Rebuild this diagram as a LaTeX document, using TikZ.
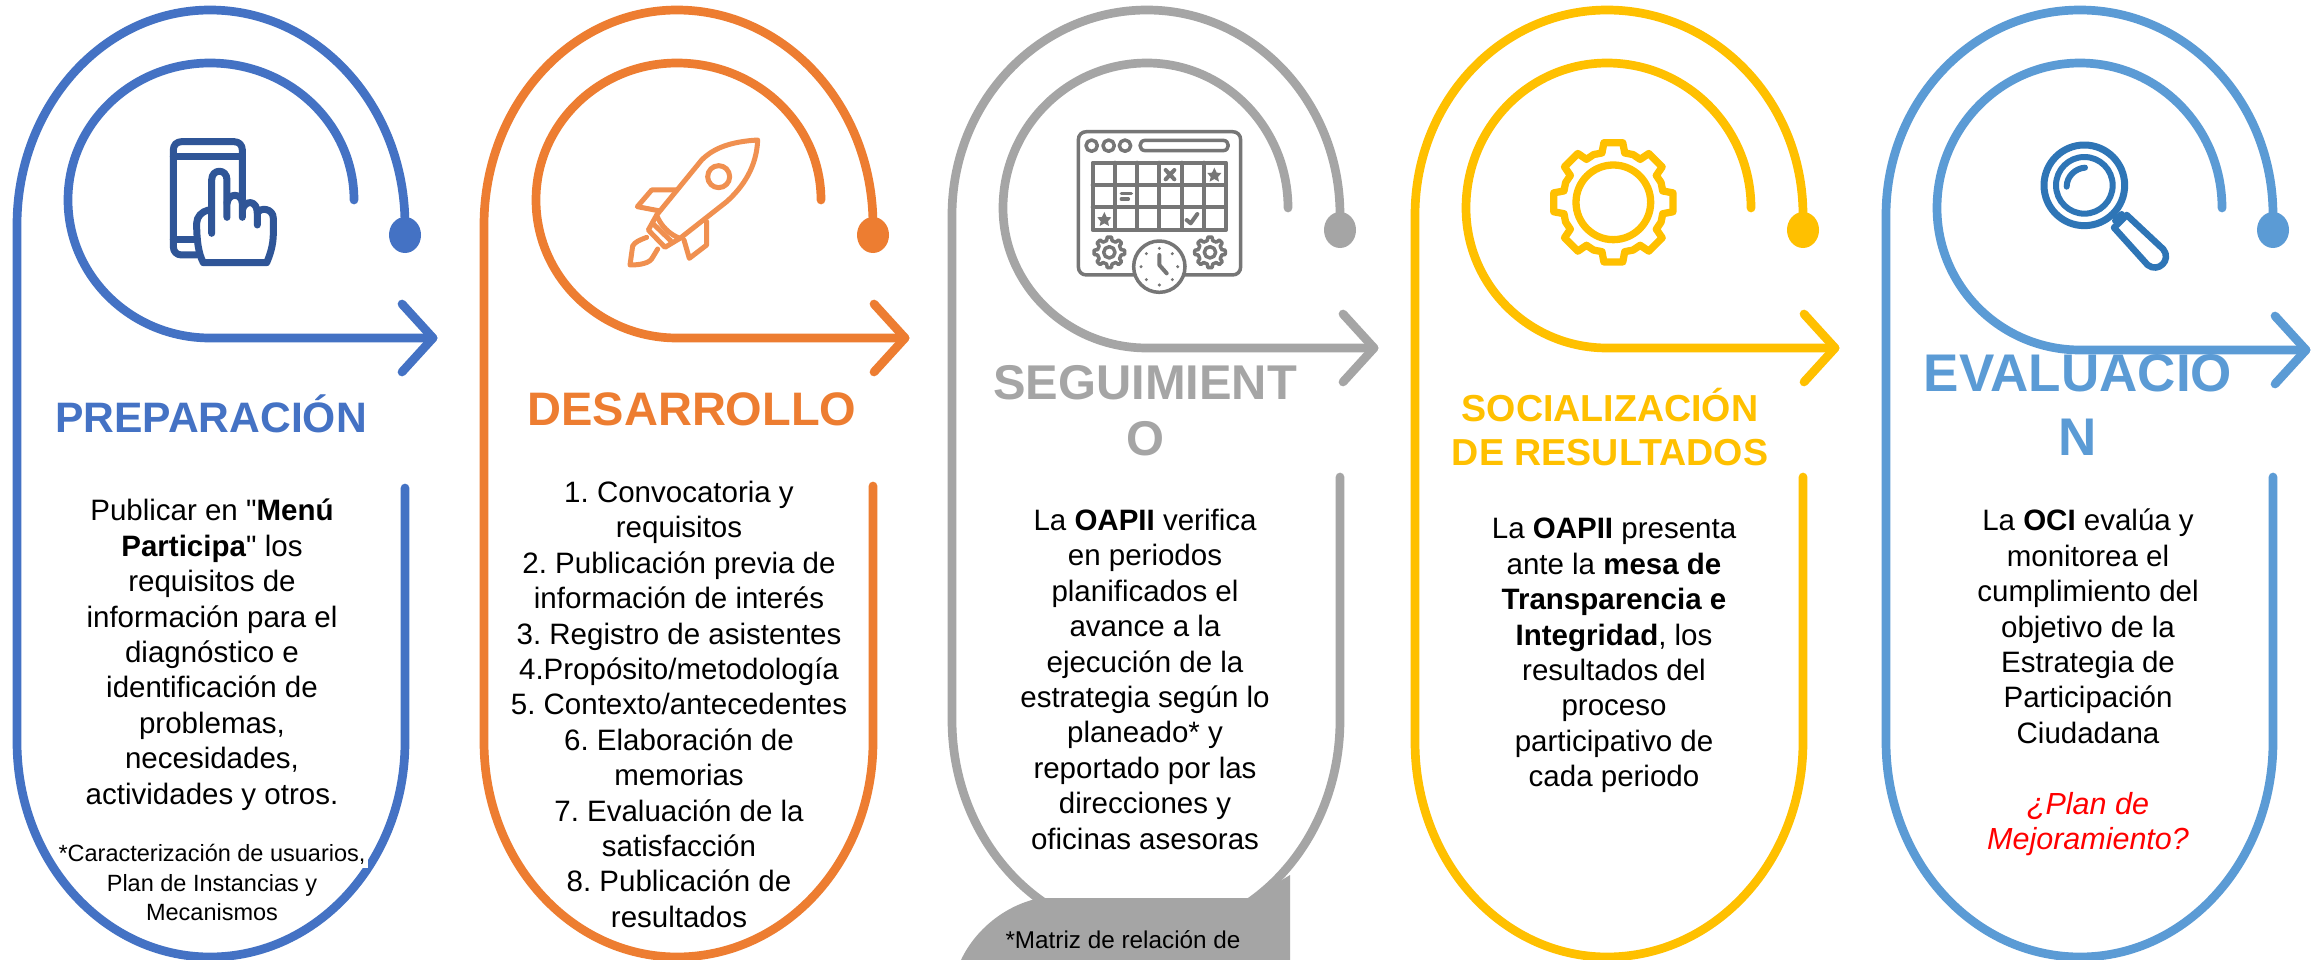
\documentclass[tikz,border=0pt]{standalone}
\usepackage{fontspec}
\setmainfont{Liberation Sans}[Ligatures=TeXOff]
\frenchspacing
\definecolor{cBlue}{HTML}{4472C4}
\definecolor{cOrange}{HTML}{ED7D31}
\definecolor{cGray}{HTML}{A5A5A5}
\definecolor{cYellow}{HTML}{FFC000}
\definecolor{cSky}{HTML}{5B9BD5}
\definecolor{cNavy}{HTML}{2F5597}
\definecolor{cSteel}{HTML}{2E75B6}
\definecolor{cIcon}{HTML}{767676}
\definecolor{cRed}{HTML}{FF0000}
\tikzset{
  ringline/.style={line width=8.7pt,line cap=round,line join=round},
  bodytext/.style={font=\fontsize{29.5}{35.4}\selectfont,align=center,inner sep=0pt,text=black,anchor=north},
  titletext/.style={font=\fontsize{42.6}{56}\selectfont\bfseries,align=center,inner sep=0pt,anchor=north},
  zoomed/.style={x=0.33333pt,y=-0.33333pt,line cap=round,line join=round},
}
\newcommand{\Ring}[1]{\RingA{#1}}
\newcommand{\RingA}[9]{\def\rc{#1}\def\xL{#2}\def\xC{#3}\def\xR{#4}\def\yT{#5}\def\yB{#6}\def\yS{#7}\def\xIL{#8}\def\xIR{#9}\RingB}
\newcommand{\RingB}[5]{%
  \pgfmathsetmacro\rxa{\xC-\xL}\pgfmathsetmacro\rxb{\xR-\xC}
  \pgfmathsetmacro\ryt{\yT-10}
  \pgfmathsetmacro\rxi{\xC-\xIL}\pgfmathsetmacro\rxj{\xIR-\xC}
  \pgfmathsetmacro\ryi{#1-63}\pgfmathsetmacro\ryj{#2-#1}
  \draw[ringline,color=\rc] (\xR,\yS) -- (\xR,\yB)
    arc[start angle=0,end angle=90,x radius=\rxb,y radius=#5]
    arc[start angle=90,end angle=180,x radius=\rxa,y radius=#5]
    -- (\xL,\yT)
    arc[start angle=180,end angle=270,x radius=\rxa,y radius=\ryt]
    arc[start angle=270,end angle=360,x radius=\rxb,y radius=\ryt] -- (\xR,#4);
  \fill[color=\rc] (\xR,#4) ellipse[x radius=16,y radius=18];
  \draw[ringline,color=\rc] (\xIR,#1)
    arc[start angle=360,end angle=270,x radius=\rxj,y radius=\ryi]
    arc[start angle=270,end angle=180,x radius=\rxi,y radius=\ryi]
    arc[start angle=180,end angle=90,x radius=\rxi,y radius=\ryj]
    -- (#3,#2);
  \draw[ringline,color=\rc] ({#3-31},{#2-34}) -- (#3,#2) -- ({#3-31},{#2+34});
}
\begin{document}
\begin{tikzpicture}[x=1pt,y=-1pt]
\useasboundingbox (0,0) rectangle (2323,960);
\fill[white] (0,0) rectangle (2323,960);

\Ring{cBlue}{17}{210}{405}{225}{742}{488}{68}{354}{200}{338}{433}{235}{215}
\Ring{cOrange}{484}{677}{873}{225}{742}{486}{536}{821}{200}{338}{905}{235}{215}
\Ring{cGray}{952}{1147}{1340}{215}{720}{477}{1003}{1288}{208}{348}{1374}{230}{215}
\Ring{cYellow}{1415}{1607}{1803}{215}{742}{477}{1466}{1751}{208}{348}{1835}{230}{215}
\Ring{cSky}{1886}{2080}{2273}{215}{742}{477}{1937}{2222}{208}{350}{2306}{230}{215}

% white text box of the footnote
\fill[white] (59,838) rectangle (368,868);
% gray bubble
\fill[cGray] (1290,960) -- (1290,875) -- (1253,898) -- (1040,898)
  .. controls (1005,905) and (975,930) .. (961,960) -- cycle;

% ---- phone icon
\begin{scope}[zoomed,line width=7pt,color=cNavy,shift={(0,0)}]
\draw (590,765) -- (545,765) .. controls (530,765) and (520,755) .. (520,740) -- (520,450)
  .. controls (520,435) and (530,425) .. (545,425) -- (702,425)
  .. controls (717,425) and (727,435) .. (727,450) -- (727,600);
\draw (520,470) -- (727,470);
\draw (520,720) -- (585,720);
\draw (635,700) -- (635,540) .. controls (635,505) and (681,505) .. (681,540) -- (681,652);
\draw (681,610) .. controls (685,578) and (725,578) .. (727,610) -- (727,652);
\draw (727,630) .. controls (735,598) and (772,600) .. (772,640) -- (772,675);
\draw (772,640) .. controls (780,620) and (820,625) .. (820,655) -- (820,700)
  .. controls (820,735) and (810,765) .. (800,788) -- (610,788)
  .. controls (595,760) and (590,720) .. (590,670) .. controls (590,650) and (605,635) .. (625,630);
\end{scope}

% ---- rocket icon
\begin{scope}[xshift=480pt,zoomed,line width=5pt,color=cOrange!85]
\draw (833,420) .. controls (750,425) and (700,445) .. (665,480) -- (530,645)
  .. controls (540,675) and (570,705) .. (600,715) -- (740,605)
  .. controls (790,560) and (830,500) .. (833,420) -- cycle;
\draw (530,645) -- (505,690) -- (555,742) -- (600,715);
\draw (520,672) -- (572,722);
\draw (590,570) -- (515,570) -- (472,620) -- (535,632);
\draw (680,665) -- (680,735) -- (628,775) -- (612,720);
\draw (716,530) circle[radius=33];
\draw (500,712) .. controls (480,720) and (465,725) .. (458,738) -- (450,795)
  .. controls (480,795) and (510,790) .. (518,772) -- (533,747);
\end{scope}

% ---- calendar icon
\begin{scope}[xshift=920pt,zoomed,line width=3.5pt,color=cIcon]
\draw (500,395) -- (937,395) .. controls (952,395) and (962,405) .. (962,420) -- (962,800)
  .. controls (962,815) and (952,825) .. (937,825) -- (500,825)
  .. controls (485,825) and (475,815) .. (475,800) -- (475,420) .. controls (475,405) and (485,395) .. (500,395) -- cycle;
\foreach \cx in {515,566,615} \draw (\cx,437) circle[radius=17];
\draw (676,421) -- (909,421) .. controls (930,421) and (930,452) .. (909,452) -- (676,452)
  .. controls (655,452) and (655,421) .. (676,421) -- cycle;
\draw[line width=4pt] (518,488) rectangle (918,690);
\foreach \cx in {585,652,718,785,852} \draw[line width=4pt] (\cx,488) -- (\cx,690);
\foreach \cy in {555,622} \draw[line width=4pt] (518,\cy) -- (918,\cy);
\draw[line width=4pt] (737,510) -- (763,538) (763,510) -- (737,538);
\draw[line width=3.5pt] (604,580) -- (634,580) (604,597) -- (625,597);
\draw[line width=4pt] (800,660) -- (812,670) -- (832,642);
\foreach \sx/\sy in {883/525,553/658}
  \fill (\sx,\sy-22) -- (\sx+7,\sy-7) -- (\sx+21,\sy-6) -- (\sx+11,\sy+6) -- (\sx+14,\sy+20)
     -- (\sx,\sy+12) -- (\sx-14,\sy+20) -- (\sx-11,\sy+6) -- (\sx-21,\sy-6) -- (\sx-7,\sy-7) -- cycle;
\foreach \gx in {568,870} {
  \draw[line width=3.5pt] (\gx,757) circle[radius=17];
  \draw[line width=3.5pt] ([shift={(\gx,757)}]0:46)
    \foreach \k in {0,45,...,315} {
       -- ([shift={(\gx,757)}]\k+8:46) -- ([shift={(\gx,757)}]\k+13:36)
       -- ([shift={(\gx,757)}]\k+32:36) -- ([shift={(\gx,757)}]\k+37:46)
       -- ([shift={(\gx,757)}]\k+45:46)
    } -- cycle;
}
\filldraw[fill=white,line width=3.5pt] (718,800) circle[radius=77];
\foreach \k in {0,45,...,315} \fill ([shift={(718,800)}]\k:55) circle[radius=5];
\draw[line width=4pt] (718,765) -- (718,795) -- (740,820);
\end{scope}

% ---- gear icon
\begin{scope}[xshift=1400pt,zoomed,line width=7.3pt,color=cYellow]
\draw (640,607) circle[radius=112];
\draw ([shift={(640,607)}]-13:152)
  \foreach \k in {0,45,...,315} {
    -- ([shift={(640,607)}]\k-9:181) -- ([shift={(640,607)}]\k+9:181)
    -- ([shift={(640,607)}]\k+13:152) -- ([shift={(640,607)}]\k+22.5:155)
    -- ([shift={(640,607)}]\k+32:152)
  } -- cycle;
\end{scope}

% ---- magnifier icon
\begin{scope}[xshift=1850pt,zoomed,color=cSteel]
\draw[line width=7pt] (703,556) circle[radius=121];
\draw[line width=6pt] (703,556) circle[radius=85];
\draw[line width=6pt] (650,560) .. controls (650,530) and (675,505) .. (705,503);
\draw[line width=6pt] (795,662) -- (815,642);
\draw[line width=6.5pt] (830,645) -- (940,748) .. controls (965,780) and (925,820) .. (893,795) -- (792,683) -- cycle;
\end{scope}

% ---- titles
\node[titletext,text=cBlue] (t1) at (211,395) {PREPARACIÓN};
\node[titletext,text=cOrange,font=\fontsize{47}{56}\selectfont\bfseries] (t2) at (692,392) {DESARROLLO};
\node[titletext,text=cGray,font=\fontsize{48.8}{56}\selectfont\bfseries] (t3) at (1145,365) {SEGUIMIENT\\O};
\node[titletext,text=cYellow,font=\fontsize{37.6}{44}\selectfont\bfseries] (t4) at (1610,388) {SOCIALIZACIÓN\\DE RESULTADOS};
\node[titletext,text=cSky,font=\fontsize{53}{64}\selectfont\bfseries] (t5) at (2078,354) {EVALUACIO\\N};

% ---- bodies
\node[bodytext] (b1) at (212,499) {Publicar en "\textbf{Menú}\\\textbf{Participa}" los\\requisitos de\\información para el\\diagnóstico e\\identificación de\\problemas,\\necesidades,\\actividades y otros.};
\node[bodytext,font=\fontsize{23.5}{29.5}\selectfont] (f1) at (212,844) {*Caracterización de usuarios,\\Plan de Instancias y\\Mecanismos};
\node[bodytext] (b2) at (679,481) {1. Convocatoria y\\requisitos\\2. Publicación previa de\\información de interés\\3. Registro de asistentes\\4.Propósito/metodología\\5. Contexto/antecedentes\\6. Elaboración de\\memorias\\7. Evaluación de la\\satisfacción\\8. Publicación de\\resultados};
\node[bodytext] (b3) at (1145,509) {La \textbf{OAPII} verifica\\en periodos\\planificados el\\avance a la\\ejecución de la\\estrategia según lo\\planeado* y\\reportado por las\\direcciones y\\oficinas asesoras};
\node[bodytext] (b4) at (1614,518) {La \textbf{OAPII} presenta\\ante la \textbf{mesa de}\\\textbf{Transparencia e}\\\textbf{Integridad}, los\\resultados del\\proceso\\participativo de\\cada periodo};
\node[bodytext] (b5) at (2088,509) {La \textbf{OCI} evalúa y\\monitorea el\\cumplimiento del\\objetivo de la\\Estrategia de\\Participación\\Ciudadana};
\node[bodytext,text=cRed,font=\fontsize{30.5}{35.4}\selectfont\itshape] (r5) at (2088,792) {¿Plan de\\Mejoramiento?};
\node[bodytext,font=\fontsize{24.3}{29.5}\selectfont] (f3) at (1123,930) {*Matriz de relación de};
\end{tikzpicture}
\end{document}
